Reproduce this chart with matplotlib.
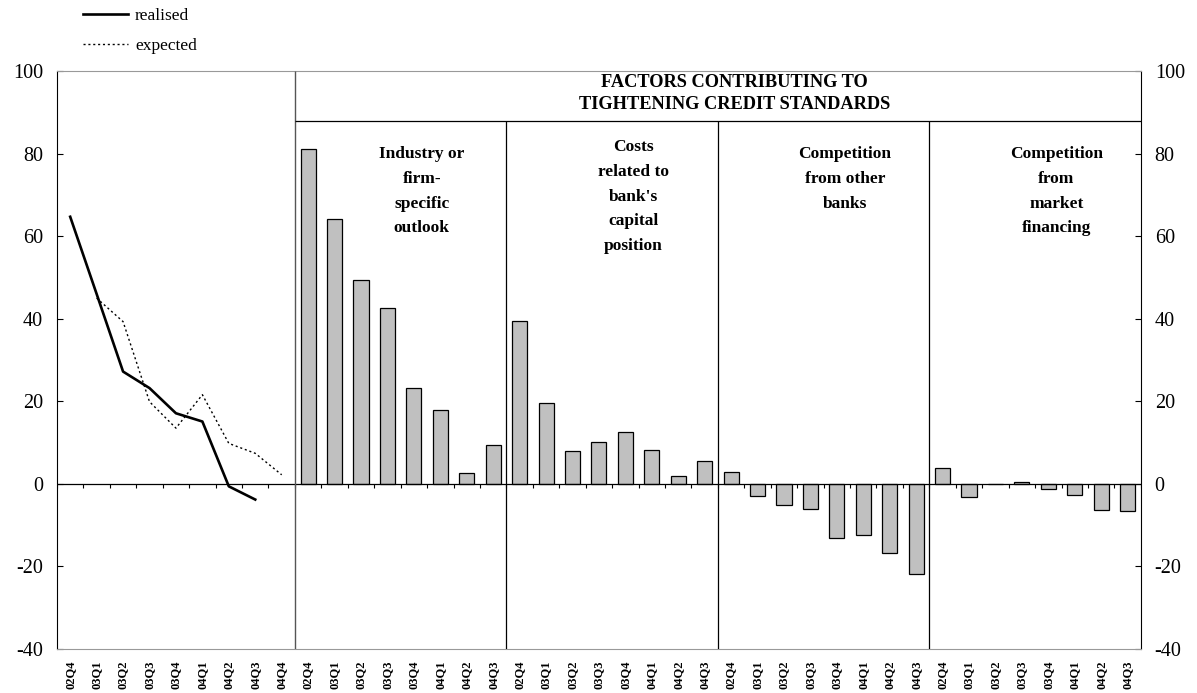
import matplotlib.pyplot as plt
import numpy as np

plt.rcParams["font.family"] = ["Liberation Serif", "DejaVu Serif"]
plt.rcParams["axes.unicode_minus"] = False

# ---- data ----
left_quarters = ["02Q4", "03Q1", "03Q2", "03Q3", "03Q4", "04Q1", "04Q2", "04Q3", "04Q4"]
group_quarters = ["02Q4", "03Q1", "03Q2", "03Q3", "03Q4", "04Q1", "04Q2", "04Q3"]

realised = [64.7, 46.0, 27.2, 23.2, 17.1, 15.1, -0.6, -3.8, np.nan]
expected = [np.nan, 45.0, 39.3, 19.9, 13.5, 21.6, 9.8, 7.4, 2.2]

industry = [81.1, 64.2, 49.4, 42.6, 23.2, 17.8, 2.7, 9.4]
capital = [39.5, 19.5, 8.0, 10.2, 12.5, 8.3, 1.9, 5.6]
other_banks = [2.8, -2.9, -5.2, -6.1, -13.2, -12.5, -16.7, -21.8]
market_fin = [3.9, -3.2, 0.0, 0.5, -1.2, -2.7, -6.3, -6.5]

group_titles = [
    "Industry or\nfirm-\nspecific\noutlook",
    "Costs\nrelated to\nbank's\ncapital\nposition",
    "Competition\nfrom other\nbanks",
    "Competition\nfrom\nmarket\nfinancing",
]
title_tops = [81.8, 83.5, 81.8, 81.8]
header = "FACTORS CONTRIBUTING TO\nTIGHTENING CREDIT STANDARDS"

# ---- layout ----
fig = plt.figure(figsize=(11.97, 6.93), dpi=100)
ax = fig.add_axes([0.0476, 0.0635, 0.9055, 0.834])

n_left = len(left_quarters)
n_grp = len(group_quarters)
groups = [industry, capital, other_banks, market_fin]
n_total = n_left + n_grp * len(groups)

x_left = np.arange(n_left)
l1, = ax.plot(x_left, realised, color="black", lw=1.9)
l2, = ax.plot(x_left, expected, color="black", lw=1.0, linestyle=(0, (1.5, 2)))

for g, vals in enumerate(groups):
    start = n_left + g * n_grp
    xs = np.arange(start, start + n_grp)
    ax.bar(xs, vals, width=0.57, color="#c0c0c0", edgecolor="black", linewidth=0.9, zorder=2)

# zero line with small ticks between categories
ax.axhline(0, color="black", lw=0.9, zorder=3)
bounds = np.arange(n_total + 1) - 0.5
ax.vlines(bounds, -1.0, 0, color="black", lw=0.8, zorder=3)

# dividers and header box
first_div = n_left - 0.5
ax.vlines(first_div, -40, 100, color="#555555", lw=1.0, zorder=3)
for g in range(1, len(groups)):
    ax.vlines(n_left + g * n_grp - 0.5, -40, 88, color="black", lw=0.9, zorder=3)
ax.hlines(88, first_div, n_total - 0.5, color="black", lw=0.9, zorder=3)

ax.text(25.14, 94.6, header, ha="center", va="center",
        fontsize=13.2, fontweight="bold", linespacing=1.39)
for g, title in enumerate(group_titles):
    cx = n_left + g * n_grp + 4.3
    ax.text(cx, title_tops[g], title, ha="center", va="top", fontsize=12.5,
            fontweight="bold", linespacing=1.73)

ax.set_xlim(-0.5, n_total - 0.5)
ax.set_ylim(-40, 100)
ax.set_yticks(np.arange(-40, 101, 20))
ax.tick_params(axis="y", direction="in", length=4, labelsize=14.5, pad=10,
               right=True, labelright=True)

labels = left_quarters + group_quarters * len(groups)
ax.set_xticks(np.arange(n_total))
ax.set_xticklabels(labels, rotation=90, fontsize=9, fontweight="bold")
ax.tick_params(axis="x", length=0, pad=8)

for side in ["top", "bottom"]:
    ax.spines[side].set_color("#999999")
for side in ["left", "right"]:
    ax.spines[side].set_color("black")

fig.legend([l1, l2], ["realised", "expected"], loc="upper left",
           bbox_to_anchor=(83 / 1197, 0.988), frameon=False, fontsize=12.5,
           handlelength=2.6, handletextpad=0.4, borderaxespad=0.0,
           labelspacing=0.75, borderpad=0.0)

fig.savefig("out.png", dpi=100)
